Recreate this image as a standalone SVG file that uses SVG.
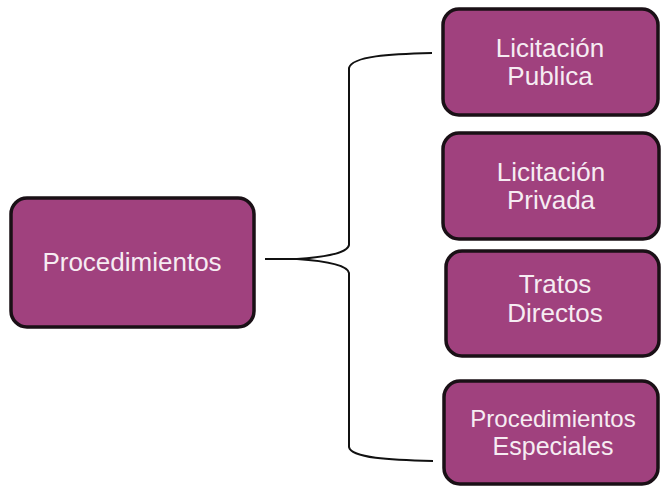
<svg xmlns="http://www.w3.org/2000/svg" width="661" height="487" viewBox="0 0 661 487">
<style>
.box{fill:#a0417e;stroke:#1a1016;stroke-width:3.5}
.t{font-family:"Liberation Sans",Arial,sans-serif;fill:#f6ecf2;text-anchor:middle;font-size:26px}
.c{fill:none;stroke:#111;stroke-width:2}
</style>
<rect width="661" height="487" fill="#ffffff"/>
<g id="connectors">
<path class="c" d="M265 259 L297 259"/>
<path class="c" d="M432 53 C390 54 352 56 349 68 L349 245 C347 255 312 258 297 259"/>
<path class="c" d="M297 259 C312 260 347 263 349 273 L349 447 C351 458 390 460 433 461"/>
</g>
<g id="procedimientos">
<rect class="box" x="11" y="198" width="243" height="129" rx="16"/>
<text class="t" x="132" y="271">Procedimientos</text>
</g>
<g id="licitacion-publica">
<rect class="box" x="443" y="9" width="215" height="106" rx="16"/>
<text class="t" x="550" y="57">Licitación</text>
<text class="t" x="550" y="85">Publica</text>
</g>
<g id="licitacion-privada">
<rect class="box" x="443" y="133" width="216" height="106" rx="16"/>
<text class="t" x="551" y="181">Licitación</text>
<text class="t" x="551" y="209">Privada</text>
</g>
<g id="tratos-directos">
<rect class="box" x="446" y="251" width="213" height="105" rx="16"/>
<text class="t" x="555" y="293">Tratos</text>
<text class="t" x="555" y="322">Directos</text>
</g>
<g id="procedimientos-especiales">
<rect class="box" x="444" y="381" width="214" height="103" rx="16"/>
<text class="t" x="553" y="427" style="font-size:24px">Procedimientos</text>
<text class="t" x="553" y="455" style="font-size:25px">Especiales</text>
</g>
</svg>
